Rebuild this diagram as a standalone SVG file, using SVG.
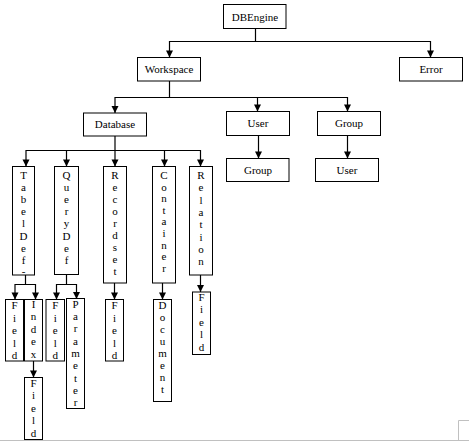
<svg xmlns="http://www.w3.org/2000/svg" width="469" height="441" viewBox="0 0 469 441">
<style>
.box{fill:#fff;stroke:#000;stroke-width:1}
.t{font-family:"Liberation Serif","Times New Roman",serif;font-size:11px;fill:#000;text-anchor:middle}
.c{fill:none;stroke:#000;stroke-width:1.2}
.a{marker-end:url(#arr)}
.edge{fill:none;stroke:#c0c0c0;stroke-width:1}
</style>
<defs>
<marker id="arr" markerUnits="userSpaceOnUse" markerWidth="8" markerHeight="8" viewBox="0 -4 7 8" refX="7" refY="0" orient="auto">
<path d="M0,-3.5 L7,0 L0,3.5 z" fill="#000"/>
</marker>
</defs>
<rect width="469" height="441" fill="#fff"/>
<path class="edge" d="M0,440.5 H469 M458.5,440 V420.5 H469"/>
<g id="connectors">
<path class="c" d="M255.5,28 V41.5 M169.5,41.5 H430.5"/>
<path class="c a" d="M169.5,41 V57.5"/>
<path class="c a" d="M430.5,41 V57.5"/>
<path class="c" d="M169.5,81 V97.5 M115,97.5 H347.5"/>
<path class="c a" d="M115,97 V113"/>
<path class="c a" d="M257.5,97 V111.5"/>
<path class="c a" d="M347.5,97 V111.5"/>
<path class="c a" d="M258.5,135 V158.5"/>
<path class="c a" d="M347.5,135 V158.5"/>
<path class="c" d="M115,136 V150.5 M26,150.5 H200.5"/>
<path class="c a" d="M26,150 V166.5"/>
<path class="c a" d="M66.5,150 V166.5"/>
<path class="c a" d="M115,150 V166.5"/>
<path class="c a" d="M164.5,150 V166.5"/>
<path class="c a" d="M200.5,150 V166.5"/>
<path class="c" d="M25.5,275 V284.5 M15,284.5 H35.5"/>
<path class="c a" d="M15,284 V299.5"/>
<path class="c a" d="M35.5,284 V299.5"/>
<path class="c" d="M66.5,274.5 V284.5 M56.5,284.5 H76.5"/>
<path class="c a" d="M56.5,284 V299.5"/>
<path class="c a" d="M76.5,284 V299"/>
<path class="c a" d="M114.5,283 V299.5"/>
<path class="c a" d="M162.5,283 V299.5"/>
<path class="c a" d="M200.5,275 V292"/>
<path class="c a" d="M33.5,361 V377.5"/>
</g>
<g id="dbengine"><rect class="box" x="223.5" y="4.5" width="62.5" height="24"/><text class="t" x="255" y="20.5">DBEngine</text></g>
<g id="workspace"><rect class="box" x="137.5" y="57.5" width="63" height="23.5"/><text class="t" x="169" y="73">Workspace</text></g>
<g id="error"><rect class="box" x="399.5" y="57.5" width="63" height="23.5"/><text class="t" x="431" y="73">Error</text></g>
<g id="database"><rect class="box" x="83.5" y="113" width="63" height="23"/><text class="t" x="115" y="128">Database</text></g>
<g id="user"><rect class="box" x="226.5" y="111.5" width="63" height="24"/><text class="t" x="258" y="127">User</text></g>
<g id="group"><rect class="box" x="317.5" y="111.5" width="63" height="24"/><text class="t" x="349" y="127">Group</text></g>
<g id="user-group"><rect class="box" x="226.5" y="158.5" width="62.5" height="23"/><text class="t" x="258" y="174">Group</text></g>
<g id="group-user"><rect class="box" x="315.5" y="158.5" width="63" height="23"/><text class="t" x="347" y="174">User</text></g>
<g id="tabeldef"><rect class="box" x="12.5" y="166.5" width="22" height="108.5"/>
<text class="t" x="23.5" y="179"><tspan x="23.5" dy="0">T</tspan><tspan x="23.5" dy="12.1">a</tspan><tspan x="23.5" dy="12.1">b</tspan><tspan x="23.5" dy="12.1">e</tspan><tspan x="23.5" dy="12.1">l</tspan><tspan x="23.5" dy="12.1">D</tspan><tspan x="23.5" dy="12.1">e</tspan><tspan x="23.5" dy="12.1">f</tspan></text>
<text class="t" x="23.5" y="274.5">-</text></g>
<g id="querydef"><rect class="box" x="54.5" y="166.5" width="24" height="108"/>
<text class="t" x="66.5" y="179"><tspan x="66.5" dy="0">Q</tspan><tspan x="66.5" dy="12.1">u</tspan><tspan x="66.5" dy="12.1">e</tspan><tspan x="66.5" dy="12.1">r</tspan><tspan x="66.5" dy="12.1">y</tspan><tspan x="66.5" dy="12.1">D</tspan><tspan x="66.5" dy="12.1">e</tspan><tspan x="66.5" dy="12.1">f</tspan></text></g>
<g id="recordset"><rect class="box" x="103.5" y="166.5" width="23" height="116.5"/>
<text class="t" x="115" y="179"><tspan x="115" dy="0">R</tspan><tspan x="115" dy="12">e</tspan><tspan x="115" dy="12">c</tspan><tspan x="115" dy="12">o</tspan><tspan x="115" dy="12">r</tspan><tspan x="115" dy="12">d</tspan><tspan x="115" dy="12">s</tspan><tspan x="115" dy="12">e</tspan><tspan x="115" dy="12">t</tspan></text></g>
<g id="container"><rect class="box" x="152.5" y="166.5" width="23" height="116.5"/>
<text class="t" x="164" y="179"><tspan x="164" dy="0">C</tspan><tspan x="164" dy="11.6">o</tspan><tspan x="164" dy="11.6">n</tspan><tspan x="164" dy="11.6">t</tspan><tspan x="164" dy="11.6">a</tspan><tspan x="164" dy="11.6">i</tspan><tspan x="164" dy="11.6">n</tspan><tspan x="164" dy="11.6">e</tspan><tspan x="164" dy="11.6">r</tspan></text></g>
<g id="relation"><rect class="box" x="189.5" y="166.5" width="23" height="108.5"/>
<text class="t" x="201" y="179"><tspan x="201" dy="0">R</tspan><tspan x="201" dy="12.3">e</tspan><tspan x="201" dy="12.3">l</tspan><tspan x="201" dy="12.3">a</tspan><tspan x="201" dy="12.3">t</tspan><tspan x="201" dy="12.3">i</tspan><tspan x="201" dy="12.3">o</tspan><tspan x="201" dy="12.3">n</tspan></text></g>
<g id="tabeldef-field"><rect class="box" x="5.5" y="299.5" width="18" height="61.5"/>
<text class="t" x="14.5" y="309"><tspan x="14.5" dy="0">F</tspan><tspan x="14.5" dy="12.5">i</tspan><tspan x="14.5" dy="12.5">e</tspan><tspan x="14.5" dy="12.5">l</tspan><tspan x="14.5" dy="12.5">d</tspan></text></g>
<g id="index"><rect class="box" x="24.5" y="299.5" width="18" height="61.5"/>
<text class="t" x="33.5" y="308"><tspan x="33.5" dy="0">I</tspan><tspan x="33.5" dy="12.4">n</tspan><tspan x="33.5" dy="12.4">d</tspan><tspan x="33.5" dy="12.4">e</tspan><tspan x="33.5" dy="12.4">x</tspan></text></g>
<g id="index-field"><rect class="box" x="24.5" y="377.5" width="18" height="62"/>
<text class="t" x="33.5" y="386.7"><tspan x="33.5" dy="0">F</tspan><tspan x="33.5" dy="12.5">i</tspan><tspan x="33.5" dy="12.5">e</tspan><tspan x="33.5" dy="12.5">l</tspan><tspan x="33.5" dy="12.5">d</tspan></text></g>
<g id="querydef-field"><rect class="box" x="46" y="299.5" width="18.5" height="61.5"/>
<text class="t" x="55.2" y="309"><tspan x="55.2" dy="0">F</tspan><tspan x="55.2" dy="12.5">i</tspan><tspan x="55.2" dy="12.5">e</tspan><tspan x="55.2" dy="12.5">l</tspan><tspan x="55.2" dy="12.5">d</tspan></text></g>
<g id="parameter"><rect class="box" x="66.5" y="298.5" width="18" height="110"/>
<text class="t" x="75.5" y="307.7"><tspan x="75.5" dy="0">P</tspan><tspan x="75.5" dy="12.3">a</tspan><tspan x="75.5" dy="12.3">r</tspan><tspan x="75.5" dy="12.3">a</tspan><tspan x="75.5" dy="12.3">m</tspan><tspan x="75.5" dy="12.3">e</tspan><tspan x="75.5" dy="12.3">t</tspan><tspan x="75.5" dy="12.3">e</tspan><tspan x="75.5" dy="12.3">r</tspan></text></g>
<g id="recordset-field"><rect class="box" x="105.5" y="299.5" width="18" height="61.5"/>
<text class="t" x="114.5" y="309"><tspan x="114.5" dy="0">F</tspan><tspan x="114.5" dy="12.5">i</tspan><tspan x="114.5" dy="12.5">e</tspan><tspan x="114.5" dy="12.5">l</tspan><tspan x="114.5" dy="12.5">d</tspan></text></g>
<g id="document"><rect class="box" x="153.5" y="299.5" width="18" height="102"/>
<text class="t" x="162.5" y="309"><tspan x="162.5" dy="0">D</tspan><tspan x="162.5" dy="12.05">o</tspan><tspan x="162.5" dy="12.05">c</tspan><tspan x="162.5" dy="12.05">u</tspan><tspan x="162.5" dy="12.05">m</tspan><tspan x="162.5" dy="12.05">e</tspan><tspan x="162.5" dy="12.05">n</tspan><tspan x="162.5" dy="12.05">t</tspan></text></g>
<g id="relation-field"><rect class="box" x="192.5" y="292" width="18" height="62.5"/>
<text class="t" x="201.5" y="300.5"><tspan x="201.5" dy="0">F</tspan><tspan x="201.5" dy="12.6">i</tspan><tspan x="201.5" dy="12.6">e</tspan><tspan x="201.5" dy="12.6">l</tspan><tspan x="201.5" dy="12.6">d</tspan></text></g>
</svg>
